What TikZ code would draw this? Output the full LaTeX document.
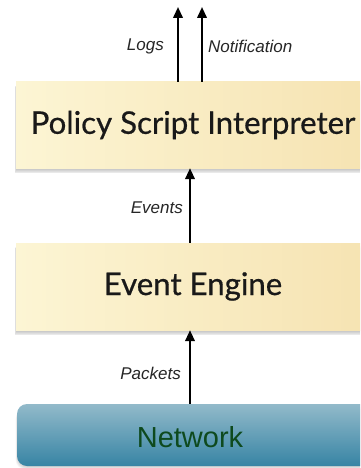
\documentclass[tikz,border=0pt]{standalone}
\usepackage{fontspec}
\setmainfont{Lato}
\newfontfamily\boxfont{Lato}[FakeBold=0.6]
\newfontfamily\labelfont{Liberation Sans}
\usetikzlibrary{arrows.meta}
\definecolor{boxl}{HTML}{FCF5D4}
\definecolor{boxr}{HTML}{F6E3B2}
\definecolor{nettop}{HTML}{92BACA}
\definecolor{netbot}{HTML}{3784A4}
\definecolor{nettext}{HTML}{0E4A1E}
\begin{document}
\begin{tikzpicture}[x=1pt,y=-1pt,
  layerbox/.style={minimum width=354pt, minimum height=86pt, inner sep=0pt,
    left color=boxl, right color=boxr, text=black!90,
    font=\boxfont\fontsize{31.2}{36}\selectfont},
  netbox/.style={minimum width=360pt, minimum height=62pt, inner sep=0pt,
    rounded corners=10pt, top color=nettop, bottom color=netbot},
  flow/.style={line width=2.2pt, -{Triangle[length=11pt,width=9.5pt]}},
  lbl/.style={font=\labelfont\itshape\fontsize{17}{20}\selectfont, inner sep=0pt, text=black!85}]
\clip (0,0) rectangle (360,468);
\fill[white] (0,0) rectangle (360,468);
% soft shadows
\foreach \s in {1,...,6}{
  \fill[black,opacity=0.045] (17-\s*0.4,84+\s*0.5) rectangle (380,168+\s*0.9);
  \fill[black,opacity=0.045] (17-\s*0.4,245+\s*0.5) rectangle (380,330+\s*0.9);
  \fill[black,opacity=0.03,rounded corners=10pt] (18-\s*0.4,406+\s*0.5) rectangle (380,466+\s*0.6);
}
\node[layerbox] (psi) at (193,125) {Policy Script Interpreter};
\node[layerbox, minimum height=87pt] (ee) at (193,286.5) {Event Engine};
\node[netbox] (net) at (197,435) {};
\node[text=nettext, font=\labelfont\fontsize{29}{34}\selectfont, inner sep=0pt] (nettxt) at (190,437) {Network};
\coordinate (logtop) at (178,7);
\coordinate (nottop) at (202,7);
\coordinate (midx) at (190,0);
\draw[flow] (psi.north -| logtop) -- (logtop);
\draw[flow] (psi.north -| nottop) -- (nottop);
\draw[flow] (ee.north -| midx) -- (psi.south -| midx);
\draw[flow] (net.north -| midx) -- (ee.south -| midx);
\node[lbl, anchor=east] (logs) at (164,46) {Logs};
\node[lbl, anchor=west] (notif) at (208,46) {Notification};
\node[lbl, anchor=east] (events) at (183,208) {Events};
\node[lbl, anchor=east] (packets) at (181,373) {Packets};
\end{tikzpicture}
\end{document}
